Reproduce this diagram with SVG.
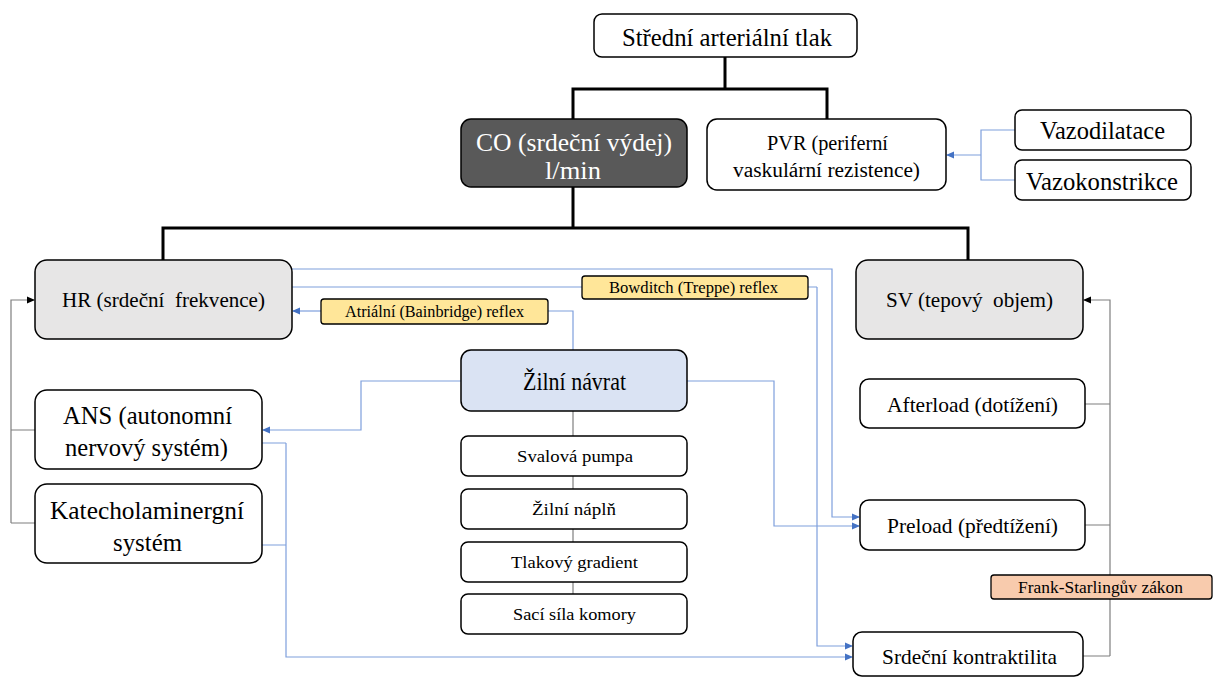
<svg xmlns="http://www.w3.org/2000/svg" width="1213" height="677" viewBox="0 0 1213 677">
<defs>
<marker id="ab" markerWidth="8" markerHeight="8" refX="7" refY="4" orient="auto" markerUnits="userSpaceOnUse"><path d="M0,0.5 L8,4 L0,7.5 Z" fill="#4472c4"/></marker>
<marker id="ak" markerWidth="8" markerHeight="8" refX="7" refY="4" orient="auto" markerUnits="userSpaceOnUse"><path d="M0,0.5 L8,4 L0,7.5 Z" fill="#000"/></marker>
</defs>
<style>
text{font-family:"Liberation Serif","Times New Roman",serif;fill:#000;text-anchor:middle;dominant-baseline:central}
.b{fill:#fff;stroke:#000;stroke-width:1.5}
.g{fill:#e7e6e6;stroke:#000;stroke-width:1.5}
.y{fill:#ffe699;stroke:#000;stroke-width:1.3}
.o{fill:#f8cbad;stroke:#000;stroke-width:1.3}
.k{fill:none;stroke:#000;stroke-width:3}
.gr{fill:none;stroke:#7f7f7f;stroke-width:1.2}
.bl{fill:none;stroke:#7e9fdc;stroke-width:1.2}
.t24{font-size:25px}.t21{font-size:22px}.t19{font-size:20px}.t17{font-size:17px}.t16{font-size:16px}
</style>
<rect width="1213" height="677" fill="#fff"/>
<g id="connectors">
<path class="k" d="M725,57 V89 M571.5,89 H828.5 M573,89 V119 M827,89 V119"/>
<path class="k" d="M573,187 V228 M161.5,228 H969.5 M163,228 V260 M968,228 V260"/>
<path class="gr" d="M35,430 H11 M35,523 H11"/>
<path class="gr" d="M11,523 V300 H34" marker-end="url(#ak)"/>
<path class="gr" d="M1085,404 H1110 M1085,525 H1110 M1083,656 H1110"/>
<path class="gr" d="M1110,656 V300 H1084" marker-end="url(#ak)"/>
<path class="gr" d="M573,411 V594"/>
<path class="bl" d="M1015,130 H981 V180 H1015"/>
<path class="bl" d="M981,155 H947" marker-end="url(#ab)"/>
<path class="bl" d="M292,269 H832 V517 H859" marker-end="url(#ab)"/>
<path class="bl" d="M292,287 H582 M808,287 H817"/>
<path class="bl" d="M817,287 V646 H852" marker-end="url(#ab)"/>
<path class="bl" d="M573,350 V311 H548"/>
<path class="bl" d="M321,311 H293" marker-end="url(#ab)"/>
<path class="bl" d="M461,381 H361 V430 H263" marker-end="url(#ab)"/>
<path class="bl" d="M687,381 H774 V526 H859" marker-end="url(#ab)"/>
<path class="bl" d="M262,443 H286 M262,545 H286"/>
<path class="bl" d="M286,443 V657 H852" marker-end="url(#ab)"/>
</g>
<g id="map"><rect class="b" x="594" y="14" width="263" height="43" rx="8"/><text class="t24" x="727" y="37" textLength="210" lengthAdjust="spacingAndGlyphs">Střední arteriální tlak</text></g>
<g id="co"><rect x="461" y="119" width="226" height="68" rx="10" fill="#595959" stroke="#000" stroke-width="1.5"/><text class="t24" x="574" y="142" textLength="196" lengthAdjust="spacingAndGlyphs" style="fill:#fff">CO (srdeční výdej)</text><text class="t24" x="573" y="170" textLength="56" lengthAdjust="spacingAndGlyphs" style="fill:#fff">l/min</text></g>
<g id="pvr"><rect class="b" x="707" y="119" width="239" height="71" rx="10"/><text class="t19" x="827.5" y="143" textLength="121" lengthAdjust="spacingAndGlyphs">PVR (periferní</text><text class="t19" x="826.5" y="170" textLength="187" lengthAdjust="spacingAndGlyphs">vaskulární rezistence)</text></g>
<g id="vazodilatace"><rect class="b" x="1015" y="110" width="176" height="40" rx="7"/><text class="t24" x="1102.5" y="130" textLength="125" lengthAdjust="spacingAndGlyphs">Vazodilatace</text></g>
<g id="vazokonstrikce"><rect class="b" x="1015" y="160" width="176" height="40" rx="7"/><text class="t24" x="1102" y="181" textLength="152" lengthAdjust="spacingAndGlyphs">Vazokonstrikce</text></g>
<g id="hr"><rect class="g" x="35" y="260" width="257" height="79" rx="12"/><text class="t21" x="163.5" y="299" textLength="203" lengthAdjust="spacingAndGlyphs">HR (srdeční&#160; frekvence)</text></g>
<g id="sv"><rect class="g" x="856" y="260" width="227" height="79" rx="12"/><text class="t21" x="969.5" y="299" textLength="167" lengthAdjust="spacingAndGlyphs">SV (tepový&#160; objem)</text></g>
<g id="bowditch"><rect class="y" x="582" y="276" width="226" height="23" rx="3"/><text class="t16" x="693.5" y="287.5" textLength="169" lengthAdjust="spacingAndGlyphs">Bowditch (Treppe) reflex</text></g>
<g id="atrialni"><rect class="y" x="321" y="299" width="227" height="25" rx="3"/><text class="t16" x="434.5" y="311.5" textLength="179" lengthAdjust="spacingAndGlyphs">Atriální (Bainbridge) reflex</text></g>
<g id="zilni-navrat"><rect x="461" y="350" width="226" height="61" rx="10" fill="#dae3f3" stroke="#000" stroke-width="1.5"/><text class="t24" x="574.5" y="381" textLength="103" lengthAdjust="spacingAndGlyphs">Žilní návrat</text></g>
<g id="ans"><rect class="b" x="35" y="390" width="227" height="79" rx="12"/><text class="t24" x="147.5" y="415" textLength="169" lengthAdjust="spacingAndGlyphs">ANS (autonomní</text><text class="t24" x="146.5" y="447" textLength="163" lengthAdjust="spacingAndGlyphs">nervový systém)</text></g>
<g id="katecholaminergni"><rect class="b" x="35" y="484" width="227" height="79" rx="12"/><text class="t24" x="147" y="510" textLength="194" lengthAdjust="spacingAndGlyphs">Katecholaminergní</text><text class="t24" x="147.5" y="542" textLength="69" lengthAdjust="spacingAndGlyphs">systém</text></g>
<g id="svalova-pumpa"><rect class="b" x="461" y="436" width="226" height="40" rx="7"/><text class="t17" x="575" y="456" textLength="116" lengthAdjust="spacingAndGlyphs">Svalová pumpa</text></g>
<g id="zilni-napln"><rect class="b" x="461" y="489" width="226" height="40" rx="7"/><text class="t17" x="574" y="509" textLength="84" lengthAdjust="spacingAndGlyphs">Žilní náplň</text></g>
<g id="tlakovy-gradient"><rect class="b" x="461" y="542" width="226" height="40" rx="7"/><text class="t17" x="574.5" y="562" textLength="127" lengthAdjust="spacingAndGlyphs">Tlakový gradient</text></g>
<g id="saci-sila"><rect class="b" x="461" y="594" width="226" height="40" rx="7"/><text class="t17" x="574.5" y="614" textLength="123" lengthAdjust="spacingAndGlyphs">Sací síla komory</text></g>
<g id="afterload"><rect class="b" x="860" y="379" width="225" height="49" rx="9"/><text class="t21" x="972.5" y="404" textLength="171" lengthAdjust="spacingAndGlyphs">Afterload (dotížení)</text></g>
<g id="preload"><rect class="b" x="860" y="500" width="225" height="50" rx="9"/><text class="t21" x="972.5" y="525" textLength="171" lengthAdjust="spacingAndGlyphs">Preload (předtížení)</text></g>
<g id="frank-starling"><rect class="o" x="991" y="575" width="221" height="24" rx="3"/><text class="t16" x="1100.5" y="587" textLength="165" lengthAdjust="spacingAndGlyphs">Frank-Starlingův zákon</text></g>
<g id="kontraktilita"><rect class="b" x="853" y="632" width="230" height="44" rx="9"/><text class="t21" x="969.5" y="656" textLength="175" lengthAdjust="spacingAndGlyphs">Srdeční kontraktilita</text></g>
</svg>
